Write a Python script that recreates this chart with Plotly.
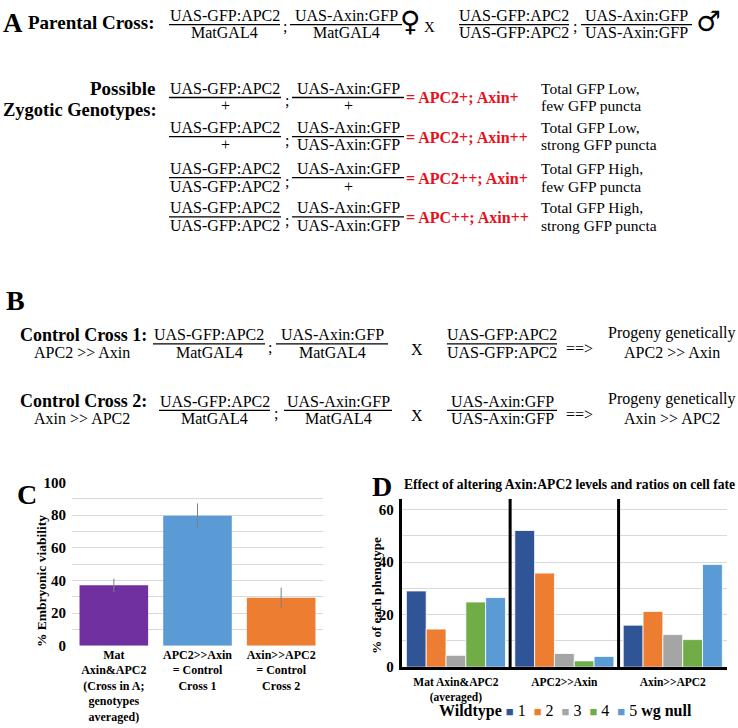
import plotly.graph_objects as go

# ---------------- data ----------------
c_categories = ["Mat<br>Axin&APC2<br>(Cross in A;<br>genotypes<br>averaged)",
                "APC2>>Axin<br>= Control<br>Cross 1",
                "Axin>>APC2<br>= Control<br>Cross 2"]
c_viability = [37.0, 79.6, 29.3]
c_error = [4.1, 7.5, 6.2]
c_colors = ["#7030A0", "#5B9BD5", "#ED7D31"]

d_groups = ["Mat Axin&APC2<br>(averaged)", "APC2>>Axin", "Axin>>APC2"]
d_phenotypes = ["1", "2", "3", "4", "5 <b>wg null</b>"]
d_pheno_1 = [29.0, 52.0, 16.0]
d_pheno_2 = [14.5, 35.8, 21.2]
d_pheno_3 = [4.5, 5.2, 12.4]
d_pheno_4 = [24.8, 2.4, 10.5]
d_pheno_5 = [26.5, 4.1, 39.1]
d_values = [d_pheno_1, d_pheno_2, d_pheno_3, d_pheno_4, d_pheno_5]
d_colors = ["#2F5597", "#ED7D31", "#A5A5A5", "#70AD47", "#5B9BD5"]

# ---------------- helpers ----------------
W, H = 738, 728
SERIF = "Liberation Serif"
RED = "#E8101A"
NB = "\u00a0"


def px(x):
    return x / W


def py(y):
    return 1 - y / H


annotations = []
shapes = []


def text(x, y, s, size=16, bold=False, color="black", anchor="center",
         family=SERIF, angle=0):
    annotations.append(dict(
        x=px(x), y=py(y), xref="paper", yref="paper", text=s, showarrow=False,
        xanchor=anchor, yanchor="middle", borderpad=0, textangle=angle,
        font=dict(family=family, size=size, color=color,
                  weight="bold" if bold else "normal")))


def frac(x0, x1, y_num, y_den, num, den, size=16):
    cx = (x0 + x1) / 2
    text(cx, y_num, num, size)
    text(cx, y_den, den, size)
    ly = (y_num + y_den) / 2 + 0.5
    shapes.append(dict(type="line", xref="paper", yref="paper",
                       x0=px(x0), x1=px(x1), y0=py(ly), y1=py(ly),
                       line=dict(color="black", width=1.3)))


G = "UAS-GFP:APC2"
X = "UAS-Axin:GFP"

# ---------------- Panel A ----------------
text(13, 15, "A", 27, True)
text(155, 15, "Parental Cross:", 19, True, anchor="right")
frac(169, 280, 8, 25, G, "MatGAL4")
text(285, 19, ";", 16)
frac(290, 402, 8, 25, X, "MatGAL4")
text(410, 14, "♀", 28, True, family="DejaVu Serif")
text(429, 19, "X", 15)
frac(459, 569, 8, 25, G, G)
text(575, 19, ";", 16)
frac(581, 692, 8, 25, X, X)
text(708, 14, "♂", 28, True, family="DejaVu Serif")

text(156, 82, "Possible", 19, True, anchor="right")
text(158, 104, "Zygotic Genotypes:", 18.5, True, anchor="right")

rows = [
    (82, 100, "+", "+", "= APC2+; Axin+", "Total GFP Low,", "few GFP puncta"),
    (122, 140, "+", X, "= APC2+; Axin++", "Total GFP Low,", "strong GFP puncta"),
    (164, 182, G, "+", "= APC2++; Axin+", "Total GFP High,", "few GFP puncta"),
    (204, 222, G, X, "= APC++; Axin++", "Total GFP High,", "strong GFP puncta"),
]
for yn, yd, den1, den2, red, t1, t2 in rows:
    frac(169, 281, yn, yd, G, den1)
    text(287, yd - 5, ";", 16)
    frac(292, 404, yn, yd, X, den2)
    text(405, (yn + yd) / 2 + 1, red, 16, True, RED, anchor="left")
    text(540, yn, t1, 15.5, anchor="left")
    text(540, yd, t2, 15.5, anchor="left")

# ---------------- Panel B ----------------
text(15, 299, "B", 28, True)
crosses = [
    (334, 352, "Control Cross 1:", "APC2 >> Axin", 153, 265, 270, 276, 388, G, G, "APC2 >> Axin"),
    (402, 420, "Control Cross 2:", "Axin >> APC2", 159, 270, 276, 284, 392, X, X, "Axin >> APC2"),
]
for yn, yd, lab, sub, a0, a1, semi, b0, b1, n3, d3, res in crosses:
    text(148, yn, lab, 18, True, anchor="right")
    text(82, yd, sub, 16)
    frac(a0, a1, yn, yd, G, "MatGAL4")
    text(semi, yd - 5, ";", 16)
    frac(b0, b1, yn, yd, X, "MatGAL4")
    text(417, yd - 3, "X", 16)
    frac(447, 557, yn, yd, n3, d3)
    text(579, yd - 4, "==>", 16)
    text(672, yn - 2, "Progeny genetically", 16)
    text(672, yd, res, 16)

# ---------------- Panel C ----------------
text(27, 497, "C", 28, True)
text(41, 586, "% Embryonic viability", 13.5, True, angle=-90)
fig = go.Figure()
fig.add_trace(go.Bar(
    x=c_categories, y=c_viability, marker=dict(color=c_colors, line=dict(width=0)),
    width=0.82,
    error_y=dict(type="data", array=c_error, color="#808080", thickness=1, width=0),
    xaxis="x", yaxis="y", showlegend=False))

# ---------------- Panel D ----------------
text(382, 489, "D", 28, True)
text(403, 487, "Effect of altering Axin:APC2 levels and ratios on cell fate", 13.6, True,
     anchor="left")
text(377, 600, "% of each phenotype", 13, True, angle=-90)
for name, vals, col in zip(d_phenotypes, d_values, d_colors):
    fig.add_trace(go.Bar(
        x=d_groups, y=vals, name=name,
        marker=dict(color=col, line=dict(color="white", width=0.8)),
        xaxis="x2", yaxis="y2", showlegend=False))

for xb in [0.5, 1.5]:
    shapes.append(dict(type="line", xref="x2", yref="y2 domain", x0=xb, x1=xb, y0=0, y1=1,
                       line=dict(color="black", width=3)))

legend_parts = ["<b>Wildtype</b>" + NB]
for name, col in zip(d_phenotypes, d_colors):
    legend_parts.append(f"<span style='color:{col};font-size:13px'>■</span>{NB}{name}{NB}{NB}")
text(565, 719, "".join(legend_parts).rstrip(NB), 16)

grid = "#D9D9D9"
tickf = dict(family=SERIF, size=15, color="black", weight="bold")
xtickf = dict(family=SERIF, size=12, color="black", weight="bold")
xtickf_d = dict(family=SERIF, size=11.5, color="black", weight="bold")

fig.update_layout(
    width=W, height=H, margin=dict(l=0, r=0, t=0, b=0),
    paper_bgcolor="white", plot_bgcolor="white",
    barmode="group", bargap=0.086, bargroupgap=0.0,
    xaxis=dict(domain=[px(72), px(323)], anchor="y", type="category",
               showgrid=False, showline=False, ticks="", tickfont=xtickf, tickangle=0),
    yaxis=dict(domain=[py(652), py(485)], anchor="x", range=[0, 100], dtick=20,
               gridcolor=grid, gridwidth=1, zeroline=False, showline=False,
               minor=dict(dtick=10, showgrid=True, gridcolor=grid, gridwidth=1),
               tickfont=tickf, ticklabelstandoff=5),
    xaxis2=dict(domain=[px(401.7), px(727)], anchor="y2", type="category",
                showgrid=False, showline=True, linecolor="black", linewidth=3,
                ticks="", tickfont=xtickf_d, tickangle=0, ticklabelstandoff=2),
    yaxis2=dict(domain=[py(674), py(502)], anchor="x2", range=[0, 64], dtick=20,
                gridcolor=grid, gridwidth=1, zeroline=False,
                showline=True, linecolor="black", linewidth=3,
                minor=dict(dtick=10, showgrid=True, gridcolor=grid, gridwidth=1),
                tickfont=tickf, ticklabelstandoff=2),
    annotations=annotations, shapes=shapes,
)

fig.write_html("out.html", config={"displayModeBar": False},
               post_script="document.body.style.margin='0px';")
